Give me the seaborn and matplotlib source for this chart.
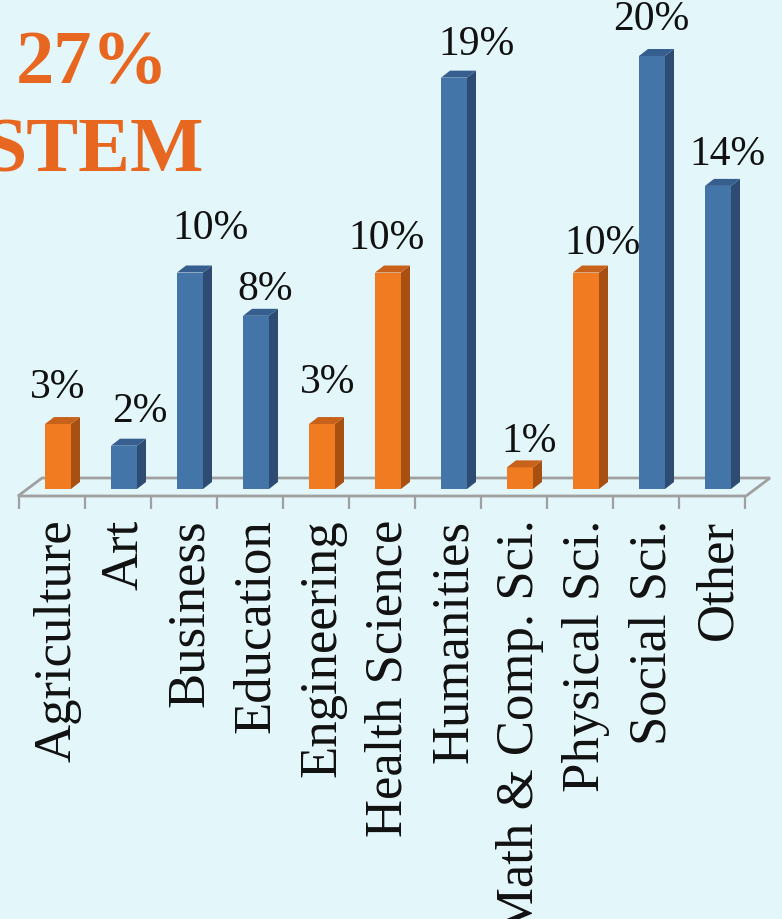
import numpy as np
import pandas as pd
import matplotlib
matplotlib.use("Agg")
import matplotlib.pyplot as plt
from matplotlib.patches import Polygon
import seaborn as sns

# ---- data -------------------------------------------------------------
fields = ["Agriculture", "Art", "Business", "Education", "Engineering",
          "Health Science", "Humanities", "Math & Comp. Sci.",
          "Physical Sci.", "Social Sci.", "Other"]
shares = [3, 2, 10, 8, 3, 10, 19, 1, 10, 20, 14]
groups = ["STEM", "Non-STEM", "Non-STEM", "Non-STEM", "STEM", "STEM",
          "Non-STEM", "STEM", "STEM", "Non-STEM", "Non-STEM"]
headline = ["27%", "STEM"]

# label nudges (pixels) relative to each bar's front-top centre
label_dx = [0, 16, 21, 9, 6, -1, 23, 9, 17, -1, 9]
label_dy = [36, 34, 44, 26, 41, 34, 33, 26, 29, 36, 31]

# ---- styling ------------------------------------------------------------
BG = "#E3F6FA"
FACE = {"STEM": "#F17B20", "Non-STEM": "#4475A8"}
SIDE = {"STEM": "#A85011", "Non-STEM": "#2E4C73"}
TOP = {"STEM": "#C8621A", "Non-STEM": "#365E8E"}
FLOOR = "#A0A0A0"
ORANGE_TITLE = "#E86720"

W, H, DPI = 782, 919, 100
SLOT = 66.0          # px per category
X0 = 58.0            # px of first bar's front-face centre
BASE = 489.0         # px of bar bottoms
PPU = 21.65          # px per percentage point
AX_BOTTOM = 496.0    # px of the floor's front edge

sns.set_theme(style="white")
serif = ["Liberation Serif", "DejaVu Serif"]
plt.rcParams["font.family"] = serif

fig = plt.figure(figsize=(W / DPI, H / DPI), dpi=DPI, facecolor=BG)
ax = fig.add_axes([0, 1 - AX_BOTTOM / H, 1, AX_BOTTOM / H])
ax.set_facecolor(BG)

df = pd.DataFrame({"field": fields, "share": shares, "group": groups})
sns.barplot(data=df, x="field", y="share", hue="group", palette=FACE,
            dodge=False, width=26 / SLOT, saturation=1, legend=False,
            ax=ax, zorder=3, linewidth=0)
ax.set_xlim((0 - X0) / SLOT, (W - X0) / SLOT)
ax.set_ylim(-(AX_BOTTOM - BASE) / PPU, BASE / PPU)

# pixel -> data step sizes
ux = 1.0 / SLOT
uy = 1.0 / PPU

# floor (outline of a shallow 3-D platform)
fx0, fx1 = (18 - X0) * ux, (746 - X0) * ux
fy_front = -(496 - BASE) * uy
fy_back = (BASE - 478) * uy
fdx = 24 * ux
floor = Polygon([(fx0, fy_front), (fx1, fy_front), (fx1 + fdx, fy_back),
                 (fx0 + fdx, fy_back)], closed=True, facecolor=BG,
                edgecolor=FLOOR, linewidth=2, zorder=1, clip_on=False)
ax.add_patch(floor)

# extrude each drawn bar into a 3-D column
ddx, ddy = 9 * ux, 7 * uy
bars = [p for p in ax.patches if p is not floor and p.get_height() > 0]
bars.sort(key=lambda p: p.get_x())
for i, p in enumerate(bars):
    g = groups[i]
    x0, x1 = p.get_x(), p.get_x() + p.get_width()
    h = p.get_height()
    side = Polygon([(x1, 0), (x1 + ddx, ddy), (x1 + ddx, h + ddy), (x1, h)],
                   closed=True, facecolor=SIDE[g], edgecolor="none", zorder=3)
    top = Polygon([(x0, h), (x1, h), (x1 + ddx, h + ddy), (x0 + ddx, h + ddy)],
                  closed=True, facecolor=TOP[g], edgecolor="none", zorder=3)
    ax.add_patch(side)
    ax.add_patch(top)
    ax.annotate(f"{shares[i]}%", xy=((x0 + x1) / 2, h),
                xytext=(label_dx[i], label_dy[i]), textcoords="offset pixels",
                ha="center", va="center", fontsize=30, color="#111111",
                family=serif, zorder=5)

# axis decoration: separators between categories, rotated field names
for s in ["top", "right", "left", "bottom"]:
    ax.spines[s].set_visible(False)
ax.set_xlabel("")
ax.set_ylabel("")
ax.set_yticks([])
ax.set_xticks(range(len(fields)))
ax.set_xticklabels(fields, rotation=90, fontsize=38, family=serif,
                   color="#111111")
ax.tick_params(axis="x", which="major", length=0, pad=17)
ax.set_xticks([(19 + SLOT * k - X0) * ux for k in range(len(fields) + 1)],
              minor=True)
ax.tick_params(axis="x", which="minor", length=9, width=1.6, color=FLOOR,
               direction="out", bottom=True)

# headline
fig.text(92 / W, 1 - 83 / H, headline[0], ha="center", va="baseline",
         fontsize=55, fontweight="bold", color=ORANGE_TITLE, family=serif)
fig.text(204 / W, 1 - 172 / H, headline[1], ha="right", va="baseline",
         fontsize=56, fontweight="bold", color=ORANGE_TITLE, family=serif)

fig.savefig("out.png", dpi=DPI, facecolor=BG)
